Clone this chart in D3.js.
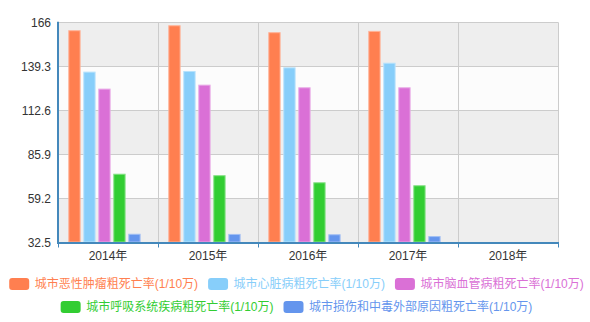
<!DOCTYPE html>
<html>
<head>
<meta charset="utf-8">
<script src="https://cdn.jsdelivr.net/npm/d3@7"></script>
<style>
  body { margin: 0; background: #fff; }
  svg text { font-family: Arial, "Liberation Sans", "Noto Sans CJK SC", sans-serif; }
</style>
</head>
<body>
<div id="chart"></div>
<script>
var years = ["2014年", "2015年", "2016年", "2017年", "2018年"];
var seriesNames = [
  "城市恶性肿瘤粗死亡率(1/10万)",
  "城市心脏病粗死亡率(1/10万)",
  "城市脑血管病粗死亡率(1/10万)",
  "城市呼吸系统疾病粗死亡率(1/10万)",
  "城市损伤和中毒外部原因粗死亡率(1/10万)"
];
var cancer = [161.2, 164.2, 160.0, 160.8, null];
var heart = [136.1, 136.5, 138.7, 141.5, null];
var cerebro = [125.8, 128.2, 126.6, 126.6, null];
var respiratory = [74.2, 73.3, 69.0, 67.2, null];
var injury = [37.8, 37.7, 37.5, 36.4, null];
var yTicks = [32.5, 59.2, 85.9, 112.6, 139.3, 166];

var colors = ["#ff7f50", "#87cefa", "#da70d6", "#32cd32", "#6495ed"];
var allSeries = [cancer, heart, cerebro, respiratory, injury];

var width = 590, height = 322;
var margin = {left: 58, right: 32, top: 22.3, bottom: 79.5};
var plotW = width - margin.left - margin.right;
var plotH = height - margin.top - margin.bottom;

var svg = d3.select("#chart").append("svg")
  .attr("width", width)
  .attr("height", height);

var x = d3.scaleBand().domain(years).range([margin.left, margin.left + plotW]);
var xInner = d3.scaleBand().domain(d3.range(seriesNames.length))
  .range([10.3, 82.6]).paddingInner(0.18);
var y = d3.scaleLinear().domain([32.5, 166]).range([margin.top + plotH, margin.top]);

// alternating split areas
var g = svg.append("g");
for (var i = 0; i < yTicks.length - 1; i++) {
  g.append("rect")
    .attr("x", margin.left)
    .attr("y", y(yTicks[i + 1]))
    .attr("width", plotW)
    .attr("height", y(yTicks[i]) - y(yTicks[i + 1]))
    .attr("fill", i % 2 == 0 ? "#eeeeee" : "#fcfcfc");
}

// horizontal grid
g.selectAll(".hgrid").data(yTicks).enter().append("line")
  .attr("x1", margin.left).attr("x2", margin.left + plotW)
  .attr("y1", function(d) { return Math.round(y(d)) + 0.5; })
  .attr("y2", function(d) { return Math.round(y(d)) + 0.5; })
  .attr("stroke", "#cccccc");

// vertical grid
var bounds = years.map(function(d) { return x(d); }).concat([margin.left + plotW]);
g.selectAll(".vgrid").data(bounds).enter().append("line")
  .attr("x1", function(d) { return Math.round(d) + 0.5; })
  .attr("x2", function(d) { return Math.round(d) + 0.5; })
  .attr("y1", margin.top).attr("y2", margin.top + plotH)
  .attr("stroke", "#cccccc");

// bars
allSeries.forEach(function(vals, si) {
  var c = colors[si];
  var light = d3.interpolateRgb(c, "#ffffff")(0.4);
  svg.append("g").selectAll("rect")
    .data(vals.map(function(v, k) { return {year: years[k], v: v}; })
      .filter(function(d) { return d.v != null; }))
    .enter().append("rect")
    .attr("x", function(d) { return x(d.year) + xInner(si) + 0.5; })
    .attr("y", function(d) { return y(d.v) + 0.5; })
    .attr("width", xInner.bandwidth() - 1)
    .attr("height", function(d) { return y(32.5) - y(d.v) - 1; })
    .attr("fill", c)
    .attr("stroke", light)
    .attr("stroke-width", 1);
});

// y axis labels
svg.append("g").selectAll("text").data(yTicks).enter().append("text")
  .attr("x", 51)
  .attr("y", function(d) { return y(d); })
  .attr("dy", "0.35em")
  .attr("text-anchor", "end")
  .attr("font-size", 12)
  .attr("fill", "#333")
  .text(function(d) { return d; });

// axis lines
svg.append("line")
  .attr("x1", margin.left).attr("x2", margin.left)
  .attr("y1", margin.top - 0.5).attr("y2", margin.top + plotH + 1)
  .attr("stroke", "#4488bb").attr("stroke-width", 2);
svg.append("line")
  .attr("x1", margin.left - 1).attr("x2", margin.left + plotW + 1)
  .attr("y1", margin.top + plotH + 0.5).attr("y2", margin.top + plotH + 0.5)
  .attr("stroke", "#4488bb").attr("stroke-width", 2);

// x ticks
svg.append("g").selectAll("line").data(bounds).enter().append("line")
  .attr("x1", function(d) { return Math.round(d) + 0.5; })
  .attr("x2", function(d) { return Math.round(d) + 0.5; })
  .attr("y1", margin.top + plotH + 1).attr("y2", margin.top + plotH + 5)
  .attr("stroke", "#4488bb");

svg.append("g").selectAll("text").data(years).enter().append("text")
  .attr("x", function(d) { return x(d) + x.bandwidth() / 2; })
  .attr("y", 260)
  .attr("text-anchor", "middle")
  .attr("font-size", 12)
  .attr("fill", "#333")
  .text(function(d) { return d; });

// legend, rows centred
var rows = [[0, 1, 2], [3, 4]];
var rowCenter = [296.5, 296.5];
var rowY = [284, 307];
rows.forEach(function(row, ri) {
  var rg = svg.append("g");
  var cx = 0;
  row.forEach(function(si) {
    var item = rg.append("g").attr("transform", "translate(" + cx + "," + rowY[ri] + ")");
    item.append("rect")
      .attr("x", 0).attr("y", -6)
      .attr("width", 20).attr("height", 12)
      .attr("rx", 3)
      .attr("fill", colors[si]);
    var t = item.append("text")
      .attr("x", 25.5).attr("y", 0).attr("dy", "0.35em")
      .attr("font-size", 12)
      .attr("fill", colors[si])
      .text(seriesNames[si]);
    cx += 25.5 + t.node().getComputedTextLength() + 10;
  });
  var total = cx - 10;
  rg.attr("transform", "translate(" + (rowCenter[ri] - total / 2) + ",0)");
});
</script>
</body>
</html>
